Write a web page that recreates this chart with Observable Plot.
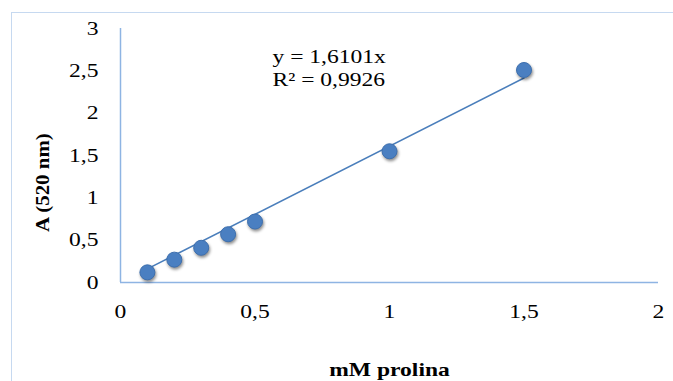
<!DOCTYPE html>
<html>
<head>
<meta charset="utf-8">
<script src="https://cdn.jsdelivr.net/npm/d3@7"></script>
<script src="https://cdn.jsdelivr.net/npm/@observablehq/plot@0.6"></script>
<style>
  html, body { margin: 0; padding: 0; background: #fff; overflow: hidden; }
  #wrap { position: relative; width: 673px; height: 381px; }
  #border { position: absolute; left: 11px; top: 12px; width: 700px; height: 400px; border: 1px solid #c6d9f0; box-sizing: border-box; }
  #chart { position: absolute; left: 0; top: 0; }
</style>
</head>
<body>
<div id="wrap"><div id="border"></div><div id="chart"></div></div>
<script>
// Data
const conc = [0.1, 0.2, 0.3, 0.4, 0.5, 1.0, 1.5];        // mM prolina
const absorb = [0.12, 0.27, 0.41, 0.57, 0.72, 1.55, 2.51]; // A (520 nm)
const xTicks = [0, 0.5, 1, 1.5, 2];
const yTicks = [0, 0.5, 1, 1.5, 2, 2.5, 3];
const slope = 1.6101;
const trendX = [0.1, 1.5];
const eqLines = ["y = 1,6101x", "R² = 0,9926"];
const xTitle = "mM prolina";
const yTitle = "A (520 nm)";

const points = conc.map((c, i) => ({x: c, y: absorb[i]}));
const trend = trendX.map(x => ({x, y: slope * x}));
const eq = eqLines.map((t, i) => ({t, i}));
const fmt = d => String(d).replace(".", ",");

const plot = Plot.plot({
  width: 673,
  height: 381,
  marginLeft: 120,
  marginRight: 15,
  marginTop: 28,
  marginBottom: 99,
  style: {fontFamily: "'Liberation Serif', 'Times New Roman', serif", fontSize: "19px", color: "#000", background: "transparent"},
  x: {domain: [0, 2]},
  y: {domain: [0, 3]},
  marks: [
    Plot.axisX({ticks: xTicks, tickFormat: fmt, tickSize: 0, tickPadding: 22, label: null}),
    Plot.axisY({ticks: yTicks, tickFormat: fmt, tickSize: 0, tickPadding: 22, label: null}),
    Plot.ruleX([0], {y1: 0, y2: 3, stroke: "#8eb4e3", strokeWidth: 1.5}),
    Plot.ruleY([0], {x1: 0, x2: 2, stroke: "#8eb4e3", strokeWidth: 1.5}),
    Plot.line(trend, {x: "x", y: "y", stroke: "#4a7ebb", strokeWidth: 1.6}),
    Plot.dot(points, {x: "x", y: "y", r: 7.5, fill: "#4a7fc1", stroke: "#3d6fae", strokeWidth: 1}),
    Plot.text(eq, {x: 0.565, y: d => d.i === 0 ? 2.659 : 2.387, text: "t", textAnchor: "start", fontSize: 19}),
    Plot.text([xTitle], {frameAnchor: "bottom", dy: 87, textAnchor: "middle", lineAnchor: "middle", fontWeight: "bold", fontSize: 19}),
    Plot.text([yTitle], {y: () => 1.18, frameAnchor: "left", dx: -78, textAnchor: "middle", lineAnchor: "middle", rotate: -90, fontWeight: "bold", fontSize: 19})
  ]
});
document.getElementById("chart").appendChild(plot);
d3.select(plot).selectAll("g[aria-label=dot] circle")
  .style("filter", "drop-shadow(1.5px 2px 1.5px rgba(0,0,0,0.45))");
// the reference's type is horizontally stretched: widen glyphs a little
d3.select(plot).selectAll("text").each(function() {
  const w = this.getComputedTextLength();
  const f = this.textContent === yTitle ? 1.1 : 1.24;
  this.setAttribute("textLength", (w * f).toFixed(1));
  this.setAttribute("lengthAdjust", "spacingAndGlyphs");
});
</script>
</body>
</html>
